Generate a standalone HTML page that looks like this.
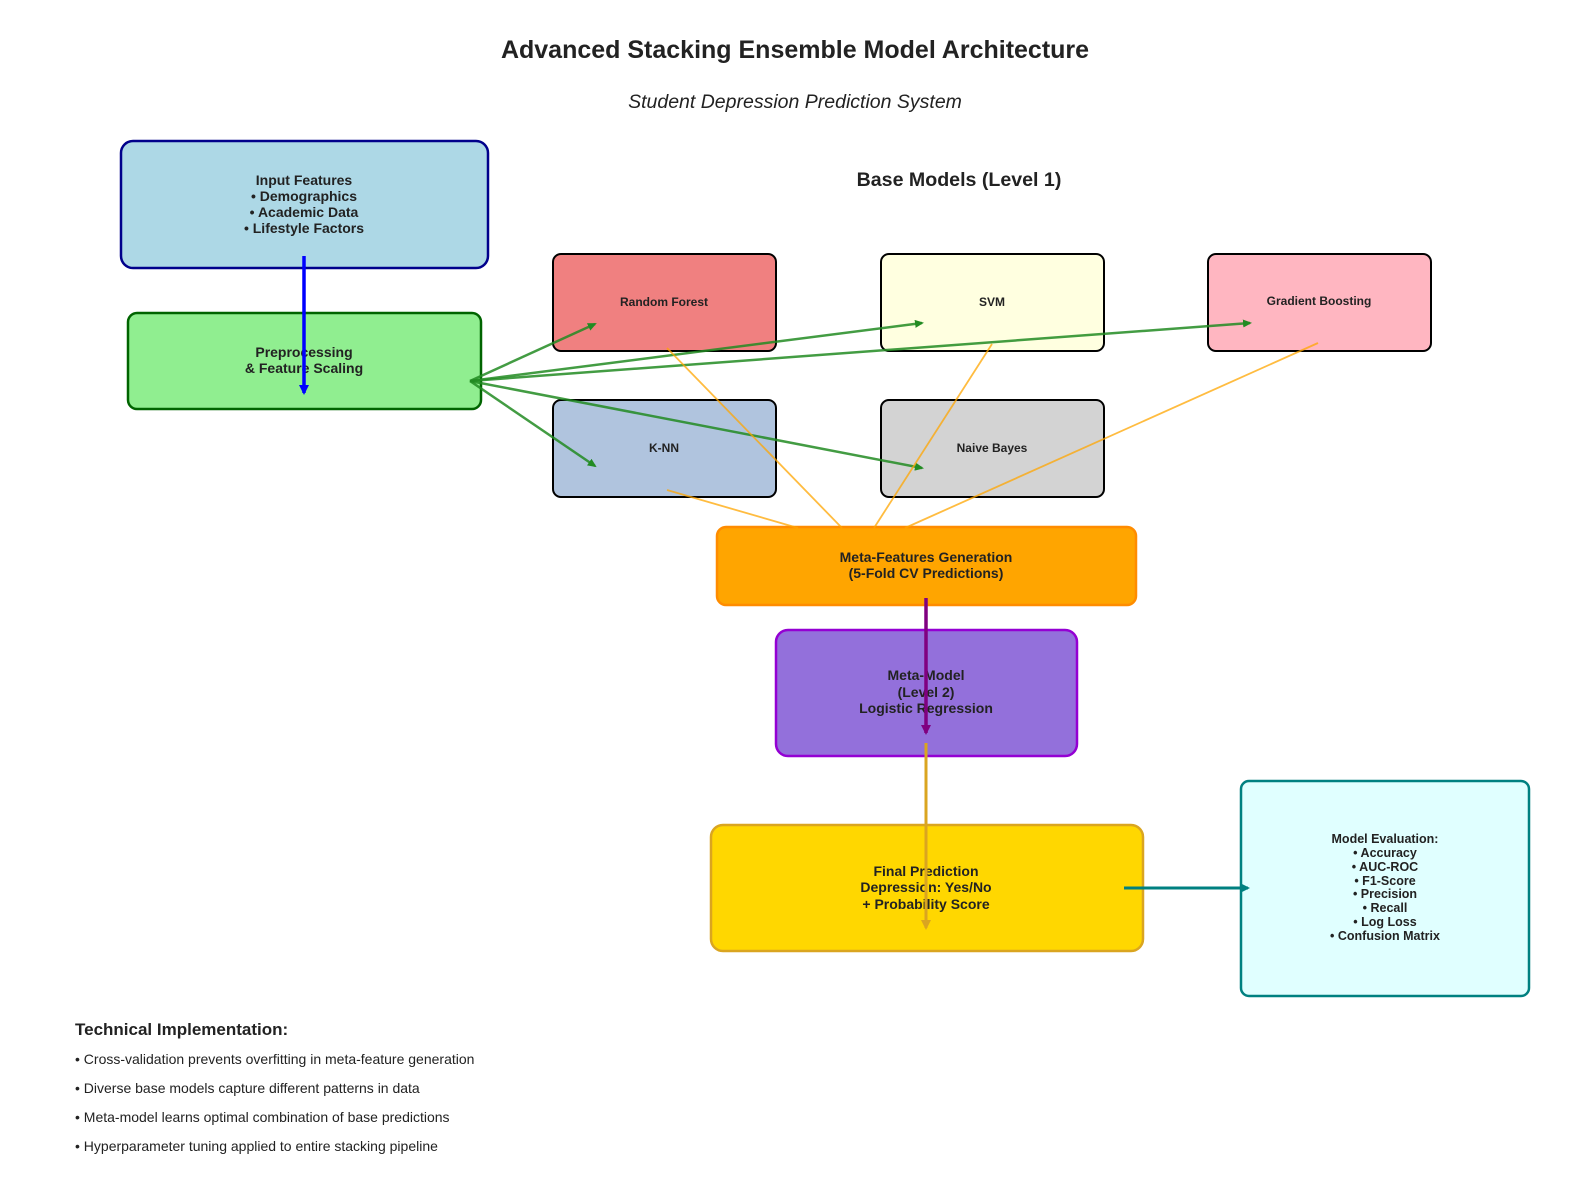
<!DOCTYPE html>
<html><head><meta charset="utf-8"><style>body{margin:0;background:#fff}svg{display:block}text{font-family:"Liberation Sans",sans-serif;fill:#222}</style></head><body>
<svg width="1589" height="1190" viewBox="0 0 1589 1190" xmlns="http://www.w3.org/2000/svg">
<defs>
<marker id="g" markerWidth="9" markerHeight="8" refX="7" refY="4" orient="auto" markerUnits="userSpaceOnUse"><path d="M0,0 L9,4 L0,8 z" fill="#228b22"/></marker>
<marker id="b" markerWidth="10" markerHeight="10" refX="8" refY="5" orient="auto" markerUnits="userSpaceOnUse"><path d="M0,0 L10,5 L0,10 z" fill="blue"/></marker>
<marker id="p" markerWidth="10" markerHeight="10" refX="8" refY="5" orient="auto" markerUnits="userSpaceOnUse"><path d="M0,0 L10,5 L0,10 z" fill="purple"/></marker>
<marker id="y" markerWidth="10" markerHeight="10" refX="8" refY="5" orient="auto" markerUnits="userSpaceOnUse"><path d="M0,0 L10,5 L0,10 z" fill="#daa520"/></marker>
<marker id="t" markerWidth="10" markerHeight="10" refX="8" refY="5" orient="auto" markerUnits="userSpaceOnUse"><path d="M0,0 L10,5 L0,10 z" fill="teal"/></marker>
</defs>
<text x="795" y="58" text-anchor="middle" font-size="25" font-weight="bold">Advanced Stacking Ensemble Model Architecture</text>
<text x="795" y="108" text-anchor="middle" font-size="19.5" font-style="italic">Student Depression Prediction System</text>
<text x="959" y="186" text-anchor="middle" font-size="19.6" font-weight="bold">Base Models (Level 1)</text>

<rect x="121" y="141" width="367" height="127" rx="12" fill="#add8e6" stroke="#00008b" stroke-width="2.5"/>
<g font-size="14" font-weight="bold" text-anchor="middle">
<text x="304" y="185">Input Features</text><text x="304" y="201">• Demographics</text><text x="304" y="217">• Academic Data</text><text x="304" y="233">• Lifestyle Factors</text></g>
<rect x="128" y="313" width="353" height="96" rx="9" fill="#90ee90" stroke="#006400" stroke-width="2.5"/>
<g font-size="14" font-weight="bold" text-anchor="middle"><text x="304" y="357">Preprocessing</text><text x="304" y="373">&amp; Feature Scaling</text></g>

<g stroke="#000" stroke-width="2">
<rect x="553" y="254" width="223" height="97" rx="8" fill="#f08080"/>
<rect x="881" y="254" width="223" height="97" rx="8" fill="#ffffe0"/>
<rect x="1208" y="254" width="223" height="97" rx="8" fill="#ffb6c1"/>
<rect x="553" y="400" width="223" height="97" rx="8" fill="#b0c4de"/>
<rect x="881" y="400" width="223" height="97" rx="8" fill="#d3d3d3"/>
</g>
<g font-size="12" font-weight="bold" text-anchor="middle">
<text x="664" y="306">Random Forest</text><text x="992" y="306">SVM</text><text x="1319" y="305">Gradient Boosting</text>
<text x="664" y="452">K-NN</text><text x="992" y="452">Naive Bayes</text></g>

<rect x="717" y="527" width="419" height="78" rx="9" fill="#ffa500" stroke="#ff8c00" stroke-width="2.5"/>
<g font-size="14" font-weight="bold" text-anchor="middle"><text x="926" y="562">Meta-Features Generation</text><text x="926" y="578">(5-Fold CV Predictions)</text></g>
<rect x="776" y="630" width="301" height="126" rx="12" fill="#9370db" stroke="#9400d3" stroke-width="2.5"/>
<g font-size="14" font-weight="bold" text-anchor="middle"><text x="926" y="680">Meta-Model</text><text x="926" y="697">(Level 2)</text><text x="926" y="713">Logistic Regression</text></g>
<rect x="711" y="825" width="432" height="126" rx="12" fill="#ffd700" stroke="#daa520" stroke-width="2.5"/>
<g font-size="14" font-weight="bold" text-anchor="middle"><text x="926" y="876">Final Prediction</text><text x="926" y="892">Depression: Yes/No</text><text x="926" y="909">+ Probability Score</text></g>
<rect x="1241" y="781" width="288" height="215" rx="8" fill="#e0ffff" stroke="#008080" stroke-width="2.5"/>
<g font-size="12.5" font-weight="bold" text-anchor="middle">
<text x="1385" y="843">Model Evaluation:</text><text x="1385" y="857">• Accuracy</text><text x="1385" y="871">• AUC-ROC</text><text x="1385" y="885">• F1-Score</text><text x="1385" y="898">• Precision</text><text x="1385" y="912">• Recall</text><text x="1385" y="926">• Log Loss</text><text x="1385" y="940">• Confusion Matrix</text></g>

<g stroke="#228b22" stroke-opacity="0.85" stroke-width="2.5" fill="none">
<line x1="470" y1="381" x2="595" y2="324" marker-end="url(#g)"/>
<line x1="470" y1="381" x2="922" y2="323" marker-end="url(#g)"/>
<line x1="470" y1="381" x2="1250" y2="323" marker-end="url(#g)"/>
<line x1="470" y1="381" x2="595" y2="466" marker-end="url(#g)"/>
<line x1="470" y1="381" x2="922" y2="468" marker-end="url(#g)"/>
</g>
<g stroke="#ffa500" stroke-opacity="0.75" stroke-width="1.8">
<line x1="667" y1="348" x2="842" y2="528"/>
<line x1="992" y1="344" x2="874" y2="528"/>
<line x1="1318" y1="343" x2="905" y2="528"/>
<line x1="667" y1="490" x2="798" y2="528"/>
</g>
<line x1="304" y1="256" x2="304" y2="393" stroke="blue" stroke-width="3.5" marker-end="url(#b)"/>
<line x1="926" y1="598" x2="926" y2="733" stroke="purple" stroke-width="3.5" marker-end="url(#p)"/>
<line x1="926" y1="743" x2="926" y2="928" stroke="#daa520" stroke-width="3" marker-end="url(#y)"/>
<line x1="1124" y1="888" x2="1248" y2="888" stroke="teal" stroke-width="3" marker-end="url(#t)"/>

<text x="75" y="1035" font-size="17" font-weight="bold">Technical Implementation:</text>
<g font-size="14"><text x="75" y="1064">• Cross-validation prevents overfitting in meta-feature generation</text>
<text x="75" y="1093">• Diverse base models capture different patterns in data</text>
<text x="75" y="1122">• Meta-model learns optimal combination of base predictions</text>
<text x="75" y="1151">• Hyperparameter tuning applied to entire stacking pipeline</text></g>
</svg></body></html>
